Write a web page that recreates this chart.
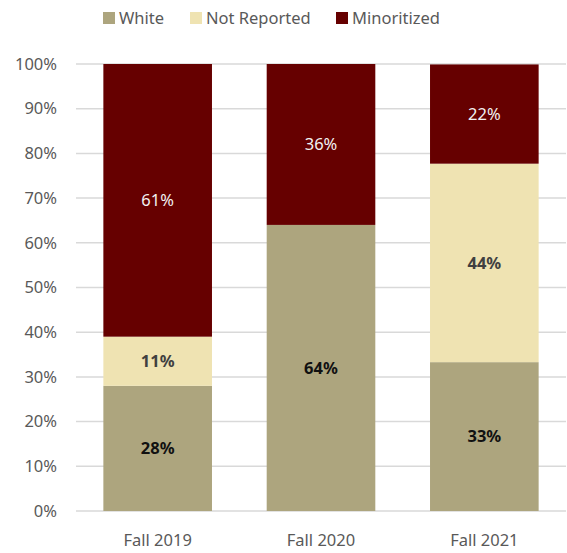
<!DOCTYPE html>
<html>
<head>
<meta charset="utf-8">
<script src="https://cdn.jsdelivr.net/npm/d3@7"></script>
<style>
    body { margin: 0; background: #fff; }
    svg text { font-family: 'Noto Sans', 'Open Sans', sans-serif; }
</style>
</head>
<body>
<div id="chart"></div>
<script>
// chart data
const categories = ['Fall 2019', 'Fall 2020', 'Fall 2021']
const seriesNames = ['White', 'Not Reported', 'Minoritized']
const white = [28, 64, 33.3]
const notReported = [11, 0, 44.4]
const minoritized = [61, 36, 22.2]
const yTicks = [0, 10, 20, 30, 40, 50, 60, 70, 80, 90, 100]

const colors = { 'White': '#ada57e', 'Not Reported': '#efe3b2', 'Minoritized': '#660000' }
const labelColors = { 'White': '#111', 'Not Reported': '#404040', 'Minoritized': '#f2f2f2' }

const width = 567
const height = 553
const margin = { top: 64, right: 1, bottom: 42, left: 76 }
const fontSize = '16.5px'

// build rows for stacking
const rows = categories.map((c, i) => ({
    category: c,
    'White': white[i],
    'Not Reported': notReported[i],
    'Minoritized': minoritized[i],
}))
const stacked = d3.stack().keys(seriesNames)(rows)

const x = d3
    .scaleBand()
    .domain(categories)
    .range([margin.left, width - margin.right])
    .paddingInner(0.335)
    .paddingOuter(0.1675)

const y = d3
    .scaleLinear()
    .domain([0, 100])
    .range([height - margin.bottom, margin.top])

const svg = d3
    .select('#chart')
    .append('svg')
    .attr('width', width)
    .attr('height', height)

// gridlines
svg.append('g')
    .selectAll('line')
    .data(yTicks)
    .enter()
    .append('line')
    .attr('x1', margin.left)
    .attr('x2', width - margin.right)
    .attr('y1', (d) => y(d))
    .attr('y2', (d) => y(d))
    .attr('stroke', '#d9d9d9')
    .attr('stroke-width', 1.5)

// y tick labels
svg.append('g')
    .selectAll('text')
    .data(yTicks)
    .enter()
    .append('text')
    .attr('x', 57)
    .attr('y', (d) => y(d))
    .attr('dy', '0.35em')
    .attr('text-anchor', 'end')
    .attr('fill', '#595959')
    .style('font-size', fontSize)
    .text((d) => d + '%')

// bars
const layers = svg.append('g')
    .selectAll('g')
    .data(stacked)
    .enter()
    .append('g')
    .attr('fill', (d) => colors[d.key])

layers.selectAll('rect')
    .data((d) => d)
    .enter()
    .append('rect')
    .attr('x', (d) => x(d.data.category))
    .attr('width', x.bandwidth())
    .attr('y', (d) => y(d[1]))
    .attr('height', (d) => y(d[0]) - y(d[1]))

// segment labels
stacked.forEach((layer) => {
    svg.append('g')
        .selectAll('text')
        .data(layer.filter((d) => d[1] - d[0] > 0))
        .enter()
        .append('text')
        .attr('x', (d) => x(d.data.category) + x.bandwidth() / 2)
        .attr('y', (d) => y((d[0] + d[1]) / 2))
        .attr('dy', '0.35em')
        .attr('text-anchor', 'middle')
        .attr('fill', labelColors[layer.key])
        .style('font-size', fontSize)
        .style('font-weight', layer.key === 'Minoritized' ? 'normal' : 'bold')
        .text((d) => Math.round(d[1] - d[0]) + '%')
})

// x labels
svg.append('g')
    .selectAll('text')
    .data(categories)
    .enter()
    .append('text')
    .attr('x', (d) => x(d) + x.bandwidth() / 2)
    .attr('y', 540)
    .attr('dy', '0.35em')
    .attr('text-anchor', 'middle')
    .attr('fill', '#595959')
    .style('font-size', fontSize)
    .text((d) => d)

// legend
const legendX = [103, 190, 336]
const legend = svg.append('g')
    .selectAll('g')
    .data(seriesNames)
    .enter()
    .append('g')
    .attr('transform', (d, i) => `translate(${legendX[i]}, 12)`)

legend.append('rect')
    .attr('width', 12)
    .attr('height', 12)
    .attr('fill', (d) => colors[d])

legend.append('text')
    .attr('x', 16)
    .attr('y', 6)
    .attr('dy', '0.35em')
    .attr('fill', '#595959')
    .style('font-size', fontSize)
    .text((d) => d)
</script>
</body>
</html>
